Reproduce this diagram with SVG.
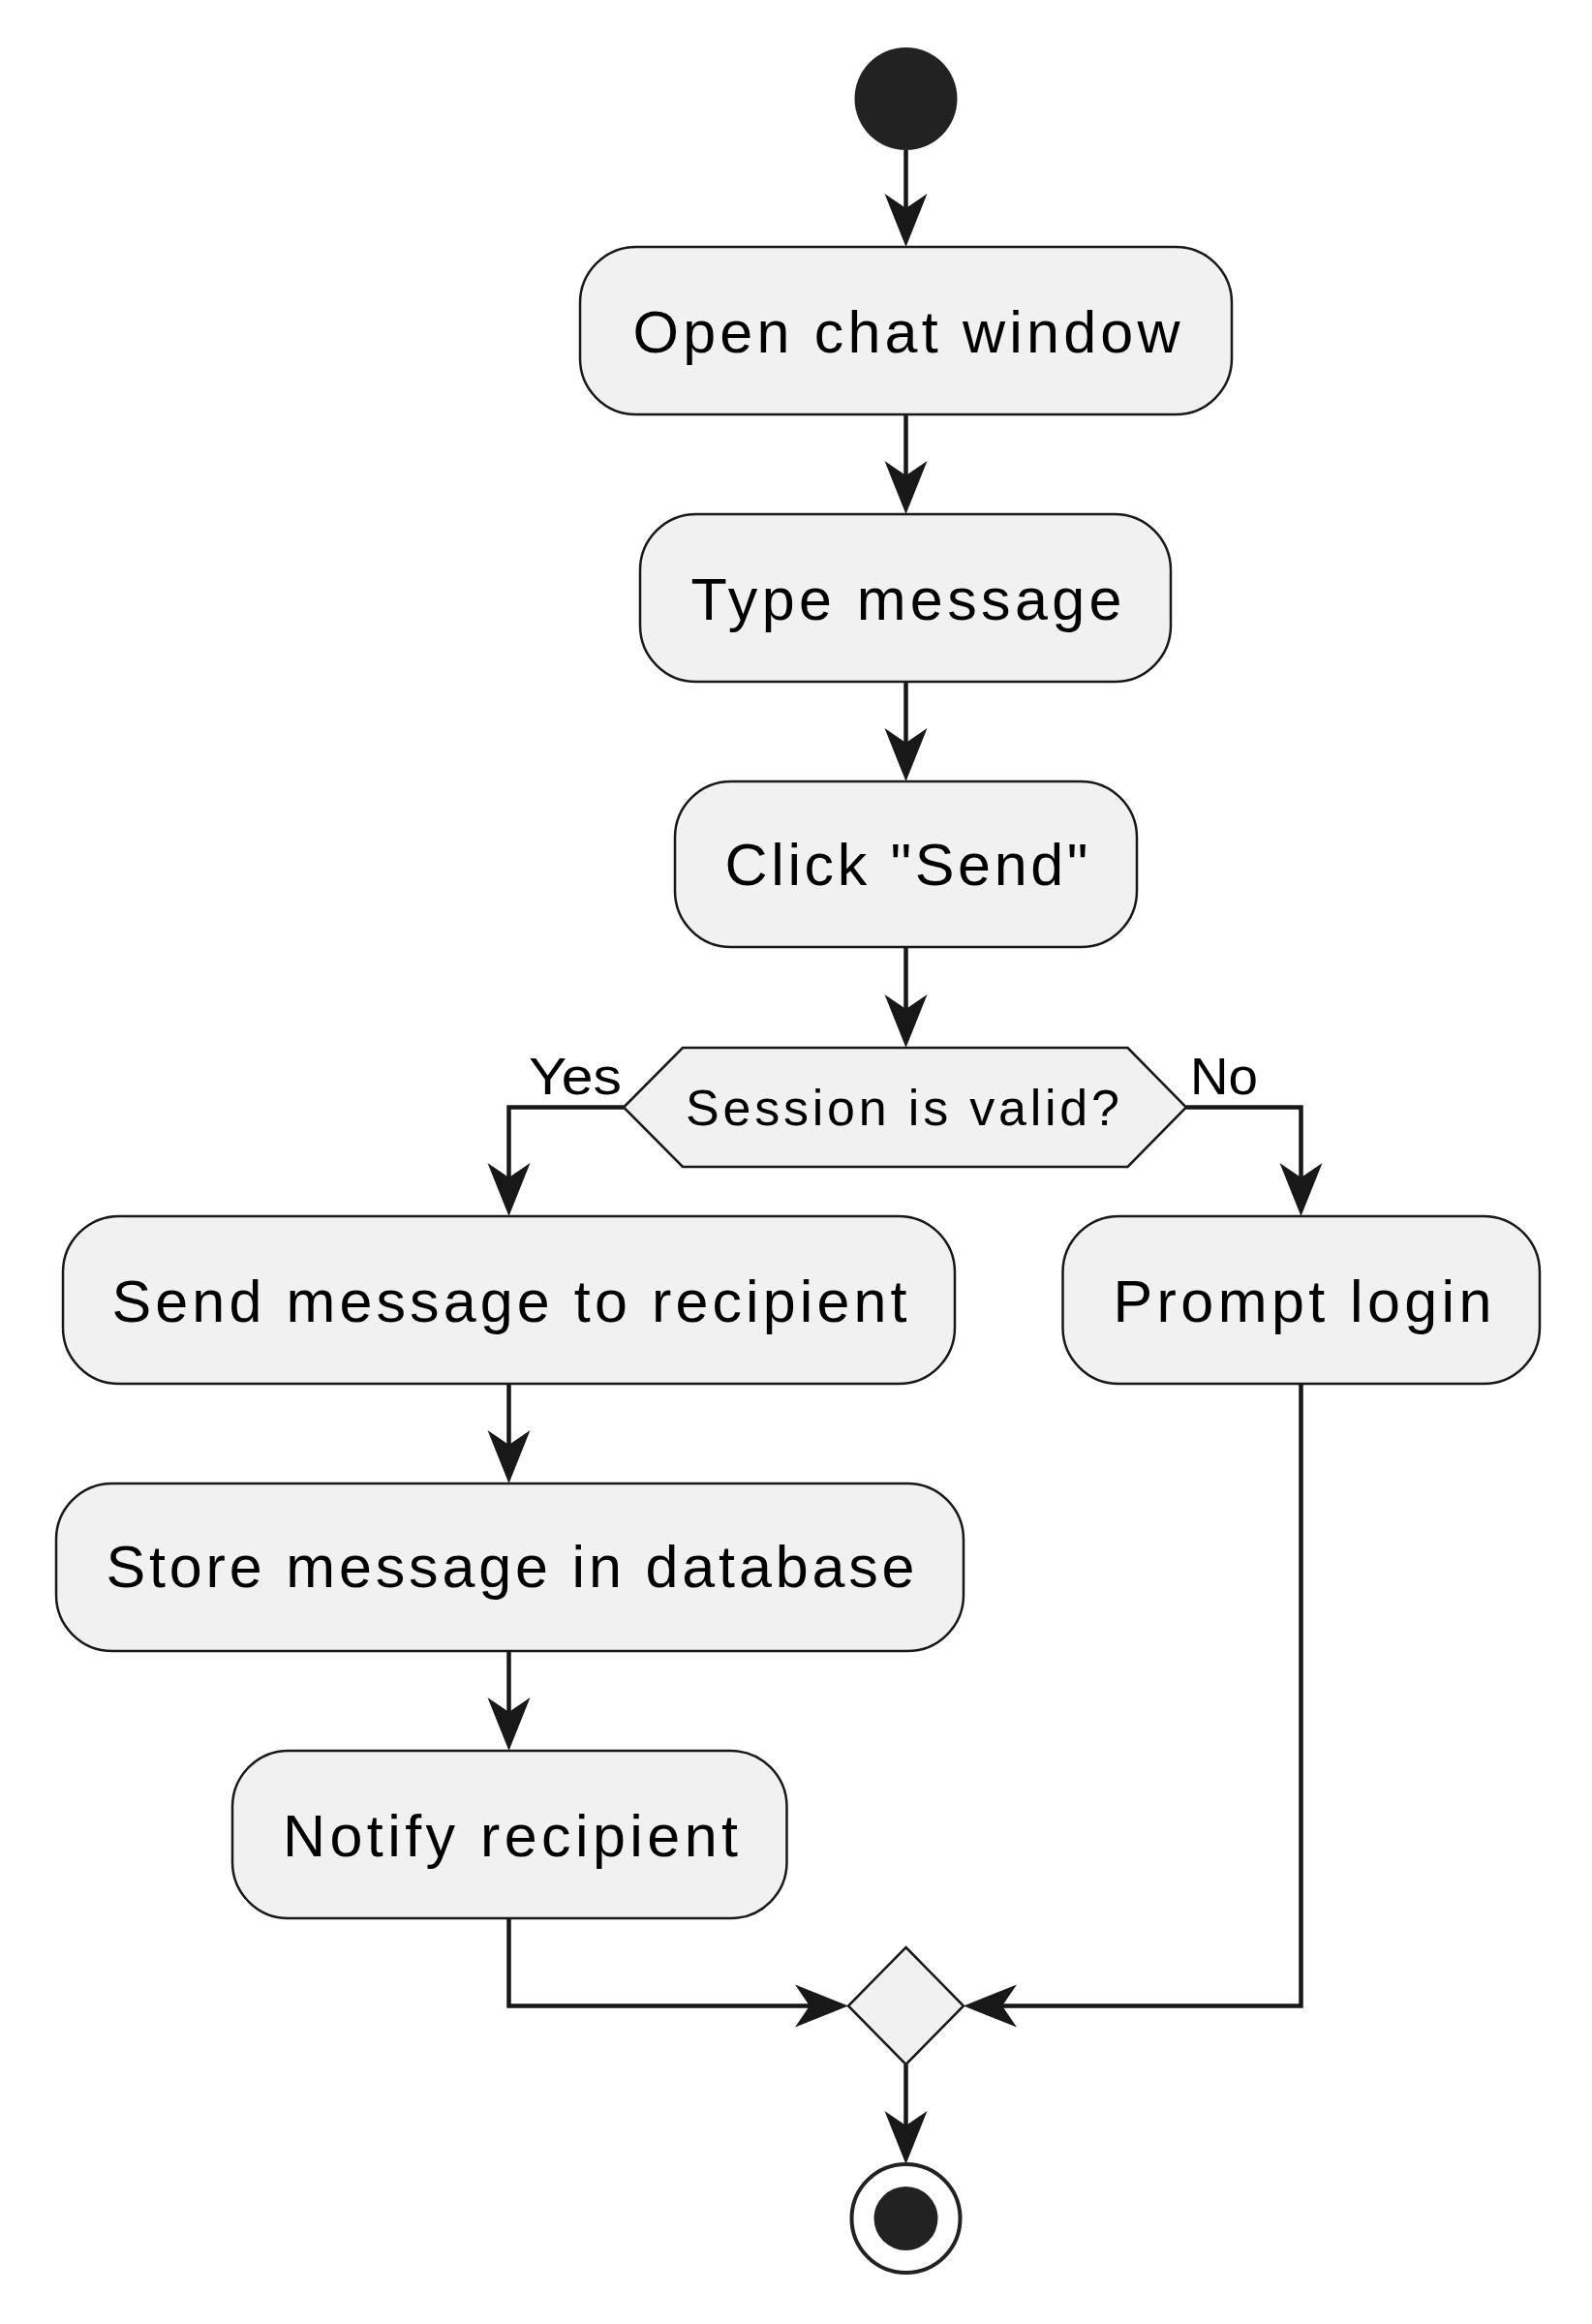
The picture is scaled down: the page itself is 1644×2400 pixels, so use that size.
<svg xmlns="http://www.w3.org/2000/svg" width="1644" height="2400" viewBox="0 0 1644 2400">
<style>
.box{fill:#F1F1F1;stroke:#181818;stroke-width:2.5}
.lbl{font-family:"Liberation Sans",Arial,sans-serif;font-size:61px;fill:#000;text-anchor:middle}
.dlbl{font-family:"Liberation Sans",Arial,sans-serif;font-size:52px;fill:#000;text-anchor:middle}
.elbl{font-family:"Liberation Sans",Arial,sans-serif;font-size:53px;fill:#000}
.edge{fill:none;stroke:#181818;stroke-width:4.5}
</style>
<defs>
<marker id="ah" markerUnits="userSpaceOnUse" viewBox="-20 -25 65 50" markerWidth="65" markerHeight="50" refX="0" refY="0" orient="auto">
<path d="M40,0 L-15,-22 L0,0 L-15,22 Z" fill="#181818"/>
</marker>
</defs>
<rect width="1644" height="2400" fill="#FFFFFF"/>
<g id="connectors">
<path class="edge" d="M935.5,155 L935.5,215" marker-end="url(#ah)"/>
<path class="edge" d="M935.5,428 L935.5,491" marker-end="url(#ah)"/>
<path class="edge" d="M935.5,704 L935.5,767" marker-end="url(#ah)"/>
<path class="edge" d="M935.5,978 L935.5,1042" marker-end="url(#ah)"/>
<path class="edge" d="M644,1143.5 L525.5,1143.5 L525.5,1216" marker-end="url(#ah)"/>
<path class="edge" d="M1225,1143.5 L1343.5,1143.5 L1343.5,1216" marker-end="url(#ah)"/>
<path class="edge" d="M525.5,1429 L525.5,1492" marker-end="url(#ah)"/>
<path class="edge" d="M525.5,1705 L525.5,1768" marker-end="url(#ah)"/>
<path class="edge" d="M525.5,1981 L525.5,2071.5 L836,2071.5" marker-end="url(#ah)"/>
<path class="edge" d="M1343.5,1429 L1343.5,2071.5 L1035,2071.5" marker-end="url(#ah)"/>
<path class="edge" d="M935.5,2132 L935.5,2195" marker-end="url(#ah)"/>
<text class="elbl" x="546" y="1129.5" textLength="96" lengthAdjust="spacingAndGlyphs">Yes</text>
<text class="elbl" x="1229" y="1130" textLength="70" lengthAdjust="spacingAndGlyphs">No</text>
</g>
<g id="start">
<circle cx="935.5" cy="102" r="53" fill="#222222"/>
</g>
<g id="open-chat">
<rect class="box" x="599" y="255" width="673" height="173" rx="58" ry="58"/>
<text class="lbl" x="936" y="363.5" textLength="565" lengthAdjust="spacing">Open chat window</text>
</g>
<g id="type-message">
<rect class="box" x="661" y="531" width="548" height="173" rx="58" ry="58"/>
<text class="lbl" x="936" y="639.5" textLength="445" lengthAdjust="spacing">Type message</text>
</g>
<g id="click-send">
<rect class="box" x="697" y="807" width="477" height="171" rx="58" ry="58"/>
<text class="lbl" x="936" y="914" textLength="375" lengthAdjust="spacing">Click "Send"</text>
</g>
<g id="session-valid">
<polygon class="box" points="644,1143.5 705,1082 1164.5,1082 1225,1143.5 1164.5,1205 705,1205"/>
<text class="dlbl" x="932" y="1161.5" textLength="448" lengthAdjust="spacing">Session is valid?</text>
</g>
<g id="send-to-recipient">
<rect class="box" x="65" y="1256" width="921" height="173" rx="58" ry="58"/>
<text class="lbl" x="526" y="1364.5" textLength="821" lengthAdjust="spacing">Send message to recipient</text>
</g>
<g id="prompt-login">
<rect class="box" x="1097.5" y="1256" width="492.5" height="173" rx="58" ry="58"/>
<text class="lbl" x="1345" y="1364.5" textLength="391" lengthAdjust="spacing">Prompt login</text>
</g>
<g id="store-message">
<rect class="box" x="58" y="1532" width="937" height="173" rx="58" ry="58"/>
<text class="lbl" x="527" y="1638.5" textLength="835" lengthAdjust="spacing">Store message in database</text>
</g>
<g id="notify-recipient">
<rect class="box" x="240" y="1808" width="572.5" height="173" rx="58" ry="58"/>
<text class="lbl" x="527" y="1916.5" textLength="470" lengthAdjust="spacing">Notify recipient</text>
</g>
<g id="merge">
<polygon class="box" points="935.5,2011 995,2071.5 935.5,2132 876,2071.5"/>
</g>
<g id="end">
<circle cx="935.5" cy="2291" r="56" fill="none" stroke="#222222" stroke-width="4"/>
<circle cx="935.5" cy="2291" r="33" fill="#222222"/>
</g>
</svg>
